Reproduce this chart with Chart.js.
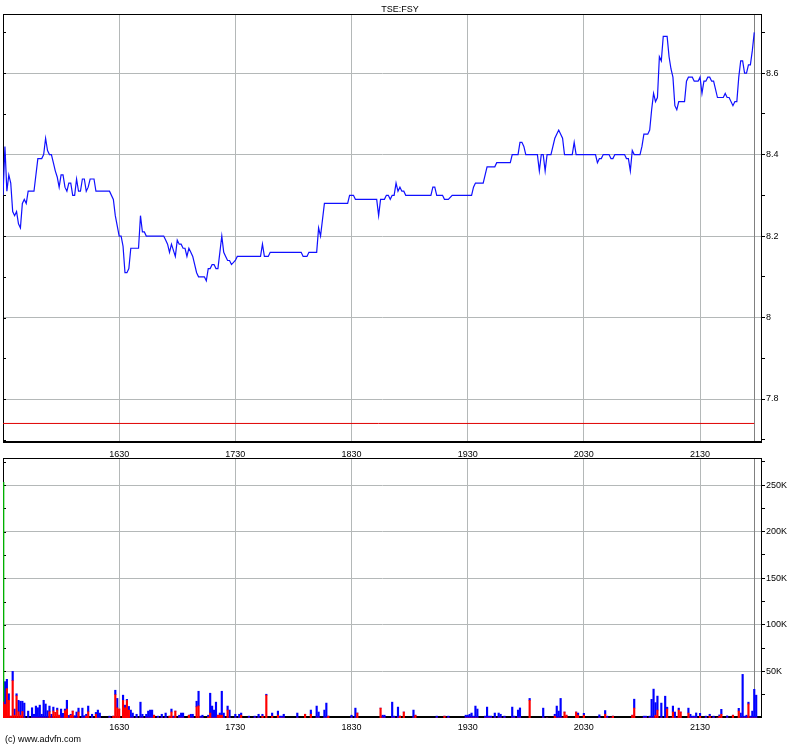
<!DOCTYPE html>
<html>
<head>
<meta charset="utf-8">
<title>TSE:FSY</title>
<script src="https://cdn.jsdelivr.net/npm/chart.js@4/dist/chart.umd.min.js"></script>
<style>
  body { margin: 0; background: #fff; }
  #wrap { position: relative; width: 800px; height: 747px; }
  canvas { position: absolute; left: 0; }
</style>
</head>
<body>
<div id="wrap">
  <canvas id="price" width="800" height="462" style="top:0"></canvas>
  <canvas id="volume" width="800" height="300" style="top:447px"></canvas>
</div>
<script>
// times are minutes after midnight (930 = 15:30)
const symbol = "TSE:FSY";
const timeTicks = [990, 1050, 1110, 1170, 1230, 1290];
const priceTicks = [7.7, 7.8, 7.9, 8.0, 8.1, 8.2, 8.3, 8.4, 8.5, 8.6, 8.7];
const volTicks = [25, 50, 75, 100, 125, 150, 175, 200, 225, 250, 275];
const refLevel = 7.74;

const priceTimes = [930,931,932,933,934,935,936,937,938,939,940,941,942,943,946,948,950,951,952,953,954,955,956,957,958,959,960,961,962,963,964,965,966,967,968,969,970,971,972,973,974,975,977,978,985,987,988,990,991,992,993,994,995,996,1000,1001,1002,1003,1004,1013,1014,1015,1016,1017,1019,1020,1021,1022,1023,1024,1025,1026,1027,1028,1030,1031,1034,1035,1036,1037,1038,1039,1040,1041,1042,1043,1044,1045,1046,1047,1048,1050,1051,1063,1064,1065,1067,1068,1084,1085,1087,1088,1092,1093,1094,1096,1108,1109,1111,1112,1123,1124,1125,1127,1128,1129,1130,1131,1132,1133,1134,1135,1136,1137,1138,1151,1152,1153,1154,1157,1158,1160,1162,1172,1173,1174,1178,1180,1184,1185,1192,1193,1196,1197,1198,1199,1200,1206,1207,1208,1209,1210,1211,1213,1215,1217,1219,1220,1224,1225,1226,1236,1237,1238,1239,1240,1243,1244,1245,1246,1251,1252,1253,1254,1255,1256,1259,1260,1261,1263,1264,1265,1266,1267,1268,1269,1270,1271,1273,1274,1275,1276,1277,1278,1279,1282,1283,1284,1286,1287,1289,1290,1291,1292,1293,1294,1295,1296,1297,1299,1302,1303,1304,1305,1307,1308,1309,1310,1311,1312,1313,1314,1315,1316,1317,1318];
const prices = [8.30,8.42,8.31,8.35,8.33,8.26,8.25,8.26,8.23,8.22,8.28,8.29,8.28,8.31,8.31,8.39,8.39,8.40,8.44,8.41,8.40,8.40,8.38,8.36,8.345,8.32,8.35,8.35,8.32,8.31,8.33,8.33,8.30,8.30,8.34,8.31,8.31,8.34,8.34,8.31,8.32,8.34,8.34,8.31,8.31,8.29,8.25,8.20,8.20,8.175,8.11,8.11,8.12,8.17,8.17,8.25,8.21,8.21,8.20,8.20,8.19,8.18,8.16,8.18,8.15,8.19,8.18,8.18,8.17,8.17,8.15,8.17,8.16,8.15,8.11,8.10,8.10,8.09,8.12,8.12,8.13,8.13,8.12,8.12,8.16,8.20,8.16,8.15,8.14,8.14,8.13,8.14,8.15,8.15,8.18,8.15,8.15,8.16,8.16,8.15,8.15,8.16,8.16,8.22,8.20,8.28,8.28,8.30,8.30,8.29,8.29,8.25,8.29,8.29,8.30,8.30,8.29,8.30,8.30,8.33,8.31,8.32,8.31,8.31,8.30,8.30,8.32,8.32,8.30,8.30,8.29,8.29,8.30,8.30,8.32,8.33,8.33,8.37,8.37,8.38,8.38,8.40,8.40,8.43,8.43,8.42,8.40,8.40,8.36,8.40,8.40,8.36,8.40,8.40,8.44,8.46,8.44,8.40,8.40,8.43,8.40,8.40,8.38,8.39,8.39,8.40,8.40,8.39,8.39,8.40,8.40,8.39,8.39,8.36,8.41,8.40,8.40,8.42,8.45,8.45,8.46,8.51,8.55,8.53,8.54,8.64,8.63,8.69,8.69,8.64,8.61,8.59,8.52,8.51,8.53,8.53,8.58,8.59,8.59,8.58,8.58,8.59,8.55,8.58,8.58,8.59,8.59,8.58,8.58,8.54,8.54,8.55,8.54,8.54,8.52,8.53,8.53,8.59,8.63,8.63,8.60,8.60,8.62,8.62,8.655,8.70];

// volume in thousands of shares: sells (red), buys (blue), opening auction (green)
const volTimes = [930,931,932,933,934,935,936,937,938,939,940,941,943,945,946,947,948,949,950,951,952,953,954,955,956,957,958,959,960,961,962,963,964,965,966,967,968,969,971,972,973,974,976,978,979,980,985,987,988,989,990,992,993,994,995,996,997,999,1001,1002,1004,1005,1006,1007,1008,1010,1012,1014,1016,1017,1018,1019,1021,1022,1023,1026,1027,1028,1030,1031,1032,1033,1036,1037,1038,1039,1040,1041,1042,1043,1044,1046,1047,1050,1052,1053,1057,1060,1062,1064,1066,1069,1072,1073,1074,1075,1082,1086,1089,1092,1093,1096,1097,1098,1110,1112,1113,1125,1126,1127,1131,1132,1134,1135,1137,1142,1143,1154,1158,1160,1169,1170,1171,1172,1173,1174,1175,1179,1180,1181,1182,1184,1186,1187,1189,1193,1194,1196,1197,1202,1209,1211,1215,1216,1217,1218,1219,1220,1221,1226,1227,1230,1238,1241,1242,1244,1245,1255,1256,1261,1262,1264,1265,1266,1267,1268,1270,1272,1273,1275,1276,1277,1278,1279,1280,1284,1285,1286,1287,1288,1290,1293,1295,1297,1299,1300,1301,1304,1307,1310,1311,1312,1313,1314,1315,1316,1317,1318,1319];
const volSell = [17,14.5,31.5,19,2,40,3,23.8,6.7,3,7,0,0,0,0,0,0,0,0,0,0,0,6.7,0,7.4,6,8.5,3,0,0,7.8,9.6,0,3,7.4,0,0,6.4,0,0,2,6.7,0,4,0,0,0,2,25,11,9.6,18.8,11,18.8,8.5,0,0,0,0,0,0,0,0,0,3,0,0,0,2,6.4,0,7.4,0,0,0,3,0,0,12,13,0,0,1,5.3,0,0,0,3,3,3,0,8.5,0,0,0,3,0,0,0,2,24.5,2,3,0,0,0,0,4,4,0,0,0,0,2,0,0,5.3,10.6,0,0,0,0,0,2,6.4,0,3,0,2,0,0,0,0,0,0,0,0,0,0,0,0,0,0,0,0,0,0,0,0,19,0,0,2,0,0,0,0,6.4,3,6.4,3,3,0,4,0,0,2,3,10.6,0,0,0,0,0,3,8.5,0,0,9.6,0,6.4,0,0,8.5,6.4,5.3,0,0,0,0,2,0,2,0,0,2,4,0,3,7.4,0,0,0,0,15,0,0,0,0,0];
const volBuy = [0,24.5,10,7,0,10,6.6,2.2,12.3,15,11,16,7.4,11,4,12.8,11,13.8,4,19,15,7.8,6.1,4,4.3,0,2.1,0,9.6,5,1.8,9.4,2.8,1,0,2.5,6.4,4.2,10.6,2.5,2,6.1,4,2,8.5,5.3,2,0,4.8,10,0,5.7,2.8,1.2,3.9,8.5,5.3,4,17,4,4,7.4,8.5,8.5,0,2,4,5.3,0,3.2,2,0,3,5.3,5.3,0,4,4,6,15.7,2,3,2,21.3,12.8,8.5,17,0,2.3,25.7,5.3,4.3,8.5,4,4,2.3,2,2,4,2,1,3.3,4.4,2,2,4,5.3,0,4.5,12.8,6.4,8.5,16,0,3,10.6,0,0,3,3,17,2,11.7,0,0,8.5,0,2,0,2,3,3,4,5.3,2,12.8,9.6,2,11.7,2,2,5.3,5.3,4,2,11.7,2,8.5,10.8,2,10.6,0,2,12.8,7.4,21,0,0,0,0,2.3,2,3.4,4,2,0,0,0,9.6,2,2,2,20,31,13.5,15,16,23.4,2,0,6.4,6.4,0,2.1,0,5.3,4,2,2,5.4,3,2,2,2,0,1.3,5.3,2.3,0,3,5.3,46.8,2,3,2,2,7.4,30.8,24.5];
const auctionTimes = [930];
const auctionVol = [236];

const fontSpec = { family: "'Liberation Sans', Arial, sans-serif", size: 9 };
const gridColor = "#b4b8b8";
const markTime = priceTimes[priceTimes.length - 1];

function fmtTime(v) {
  return String(Math.floor(v / 60) * 100 + (v % 60));
}
function pts(xs, ys) {
  return xs.map((x, i) => ({ x: x, y: ys[i] }));
}

// box round the plot, small inner ticks on the left, end-of-data marker
const panelFrame = {
  id: "panelFrame",
  beforeDatasetsDraw(chart) {
    const { ctx, chartArea: a, scales } = chart;
    const mx = Math.round(scales.x.getPixelForValue(markTime)) + 0.5;
    ctx.save();
    ctx.strokeStyle = "#808080";
    ctx.lineWidth = 1;
    ctx.beginPath();
    ctx.moveTo(mx, a.top);
    ctx.lineTo(mx, a.bottom);
    ctx.stroke();
    ctx.strokeStyle = "#000";
    ctx.strokeRect(a.left + 0.5, a.top + 0.5, a.right - a.left - 1, a.bottom - a.top - 1);
    ctx.lineWidth = 2;
    ctx.beginPath();
    ctx.moveTo(a.left, a.bottom - 1);
    ctx.lineTo(a.right, a.bottom - 1);
    ctx.stroke();
    ctx.lineWidth = 1;
    ctx.beginPath();
    scales.y.ticks.forEach(t => {
      const y = Math.round(scales.y.getPixelForValue(t.value)) + 0.5;
      ctx.moveTo(a.left, y);
      ctx.lineTo(a.left + 3, y);
    });
    ctx.stroke();
    ctx.restore();
  },
  afterDraw(chart, args, opts) {
    const { ctx } = chart;
    ctx.save();
    ctx.fillStyle = "#000";
    ctx.font = "9px 'Liberation Sans', Arial, sans-serif";
    if (opts.title) {
      ctx.textAlign = "center";
      ctx.fillText(opts.title, 400, 12);
    }
    if (opts.footer) {
      ctx.textAlign = "left";
      ctx.fillText(opts.footer, 5, 295);
    }
    ctx.restore();
  }
};

function xScale(height, pad) {
  return {
    type: "linear",
    min: 930,
    max: 1322,
    offset: false,
    afterBuildTicks: s => { s.ticks = timeTicks.map(v => ({ value: v })); },
    afterFit: s => { s.height = height; },
    ticks: { callback: fmtTime, font: fontSpec, color: "#000", padding: pad, maxRotation: 0, autoSkip: false },
    grid: { color: gridColor, drawTicks: false, offset: false },
    border: { display: false }
  };
}

new Chart(document.getElementById("price"), {
  type: "line",
  data: {
    datasets: [
      {
        data: pts(priceTimes, prices),
        borderColor: "#1010ff",
        borderWidth: 1.2,
        pointRadius: 0
      },
      {
        data: [{ x: priceTimes[0], y: refLevel }, { x: markTime, y: refLevel }],
        borderColor: "#e00000",
        borderWidth: 1,
        pointRadius: 0
      }
    ]
  },
  options: {
    responsive: false,
    animation: false,
    layout: { padding: { left: 3, top: 14, right: 0, bottom: 0 } },
    plugins: {
      legend: { display: false },
      tooltip: { enabled: false },
      panelFrame: { title: symbol }
    },
    scales: {
      x: xScale(19, 6),
      y: {
        position: "right",
        min: 7.692,
        max: 8.745,
        afterBuildTicks: s => { s.ticks = priceTicks.map(v => ({ value: v })); },
        afterFit: s => { s.width = 38; },
        ticks: {
          font: fontSpec,
          color: "#000",
          padding: 1,
          callback: v => (Math.round(v * 10) % 2 === 0 ? String(Number(v.toFixed(1))) : "")
        },
        grid: {
          color: c => (Math.round(c.tick.value * 10) % 2 === 0 ? gridColor : "rgba(0,0,0,0)"),
          tickColor: "#000",
          tickLength: 3
        },
        border: { display: false }
      }
    }
  },
  plugins: [panelFrame]
});

new Chart(document.getElementById("volume"), {
  type: "bar",
  data: {
    datasets: [
      { data: pts(volTimes, volSell), backgroundColor: "#ff0000", barThickness: 1.5 },
      { data: pts(auctionTimes, auctionVol), backgroundColor: "#00b000", barThickness: 2 },
      { data: pts(volTimes, volBuy), backgroundColor: "#0000ff", barThickness: 1.5 }
    ]
  },
  options: {
    responsive: false,
    animation: false,
    layout: { padding: { left: 3, top: 11, right: 0, bottom: 0 } },
    plugins: {
      legend: { display: false },
      tooltip: { enabled: false },
      panelFrame: { footer: "(c) www.advfn.com" }
    },
    scales: {
      x: Object.assign(xScale(29, 4), { stacked: true }),
      y: {
        position: "right",
        stacked: true,
        min: 0,
        max: 279,
        afterBuildTicks: s => { s.ticks = volTicks.map(v => ({ value: v })); },
        afterFit: s => { s.width = 38; },
        ticks: {
          font: fontSpec,
          color: "#000",
          padding: 1,
          callback: v => (v % 50 === 0 ? v + "K" : "")
        },
        grid: {
          color: c => (c.tick.value % 50 === 0 ? gridColor : "rgba(0,0,0,0)"),
          tickColor: "#000",
          tickLength: 3
        },
        border: { display: false }
      }
    }
  },
  plugins: [panelFrame]
});
</script>
</body>
</html>
